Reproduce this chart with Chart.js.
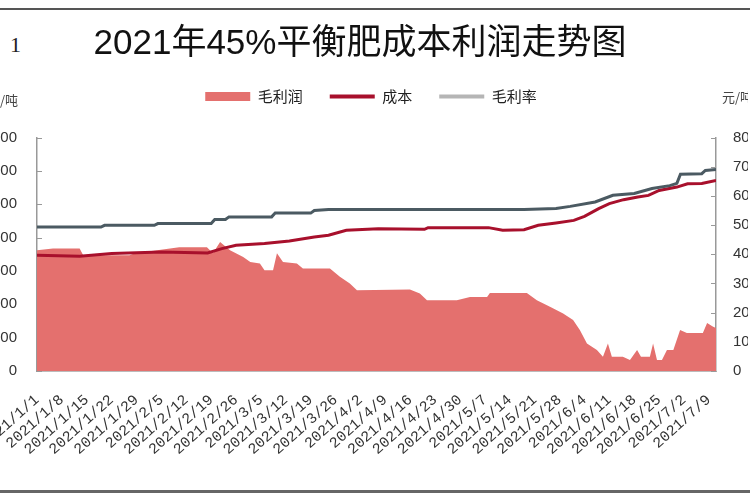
<!DOCTYPE html>
<html>
<head>
<meta charset="utf-8">
<script src="https://cdn.jsdelivr.net/npm/chart.js@4"></script>
<style>
  html, body { margin: 0; padding: 0; background: #fff; overflow: hidden; width: 750px; height: 500px; }
  #frameTop { position: absolute; left: 0; top: 8px; width: 750px; height: 2px; background: #555; }
  #frameBottom { position: absolute; left: 0; top: 490px; width: 750px; height: 3px; background: #666; }
  #caption { position: absolute; left: -36px; top: 26px; font: 22px 'Liberation Serif', 'Noto Sans CJK SC', serif; color: #222; white-space: pre; }
  #wrap { position: absolute; left: -28px; top: 10px; width: 776px; height: 480px; }
</style>
</head>
<body>
<div id="frameTop"></div>
<div id="caption"><span>图</span><span style="margin-left:24px">1</span></div>
<div id="wrap"><canvas id="c"></canvas></div>
<div id="frameBottom"></div>
<script>
// ---- data ----
const title = '2021年45%平衡肥成本利润走势图';
const seriesNames = ['毛利润', '成本', '毛利率'];
const unitLabel = '元/吨';

// weekly tick labels (day index 0 = 2021/1/1, one tick every 7 days)
const tickLabels = ['2021/1/1','2021/1/8','2021/1/15','2021/1/22','2021/1/29','2021/2/5','2021/2/12',
  '2021/2/19','2021/2/26','2021/3/5','2021/3/12','2021/3/19','2021/3/26','2021/4/2','2021/4/9',
  '2021/4/16','2021/4/23','2021/4/30','2021/5/7','2021/5/14','2021/5/21','2021/5/28','2021/6/4',
  '2021/6/11','2021/6/18','2021/6/25','2021/7/2','2021/7/9'];

// 毛利润 (area, left axis)
const profitDays = [0,4.5,12,13,26,27.6,40,47.8,49.5,51.5,54.3,58,60,62.7,64,66.4,67.5,69.2,73.1,74.8,
  82.4,85.2,88,90,104.9,107.7,109.7,118.1,121.8,126.6,127.4,137.8,140.6,144.3,148,150.8,152.7,154.7,157.5,159.2,
  160.6,161.7,164.8,166.8,168.8,169.9,172.4,173.3,174.4,175.8,177.2,179,180.9,182.8,187.3,188.5,190.2,191];
const profitVals = [1810,1835,1835,1735,1735,1765,1855,1855,1765,1934,1810,1710,1635,1611,1511,1511,1765,1635,1611,1536,
  1536,1411,1312,1212,1222,1162,1062,1062,1111,1111,1171,1171,1062,962,863,763,613,414,314,214,
  414,214,214,165,314,214,214,414,165,165,314,314,613,568,568,718,663,643];

// 成本 (line, left axis)
const costDays = [0,12,21,35,48,52,56,64,71,78,82,87,96,109,110,127,131,137,141,146,151,154,158,161,165,169,172,175,180,183,187,191];
const costVals = [1735,1720,1760,1784,1770,1835,1885,1910,1949,2009,2034,2109,2134,2124,2149,2149,2109,2119,2184,2218,
  2258,2318,2434,2508,2568,2607,2632,2707,2757,2807,2812,2857];

// 毛利率 (line, right axis)
const rateDays = [0,18,19,33,34,49,50,53,54,66,67,77,78,82,137,146,150,157,162,168,173,178,180,181,187,188,191];
const rateVals = [49.3,49.3,49.9,49.9,50.5,50.5,51.9,51.9,52.8,52.8,54.1,54.1,55.0,55.3,55.3,55.7,56.4,57.9,60.2,60.8,
  62.5,63.5,64.3,67.4,67.6,68.7,69.0];

const leftTicks = [0,500,1000,1500,2000,2500,3000,3500];
const rightTicks = [0,10,20,30,40,50,60,70,80];

const toPts = (xs, ys) => xs.map((x, i) => ({x: x, y: ys[i]}));

const latin = "'Liberation Sans', 'Noto Sans CJK SC', sans-serif";
const cjk = "'Noto Sans CJK SC', sans-serif";

const innerTicks = {
  id: 'innerTicks',
  beforeDatasetsDraw(chart) {
    const {ctx, chartArea} = chart;
    ctx.save();
    ctx.strokeStyle = '#999';
    ctx.lineWidth = 1;
    chart.scales.y.ticks.forEach(t => {
      const p = Math.round(chart.scales.y.getPixelForValue(t.value)) + 0.5;
      ctx.beginPath(); ctx.moveTo(chartArea.left, p); ctx.lineTo(chartArea.left + 5, p); ctx.stroke();
    });
    chart.scales.y1.ticks.forEach(t => {
      const p = Math.round(chart.scales.y1.getPixelForValue(t.value)) + 0.5;
      ctx.beginPath(); ctx.moveTo(chartArea.right - 5, p); ctx.lineTo(chartArea.right, p); ctx.stroke();
    });
    ctx.restore();
  }
};

const units = {
  id: 'units',
  afterDraw(chart) {
    const {ctx} = chart;
    ctx.save();
    ctx.font = '13px ' + cjk;
    ctx.fillStyle = '#444';
    ctx.textBaseline = 'middle';
    ctx.textAlign = 'right';
    ctx.fillText(unitLabel, 46, 90);
    ctx.textAlign = 'left';
    ctx.fillText(unitLabel, 750, 87);
    ctx.restore();
  }
};

const legendShift = {
  id: 'legendShift',
  afterLayout(chart) {
    if (chart.legend) { chart.legend.left += 11; chart.legend.right += 11; }
  }
};

const legendColors = ['#e4706e', '#a8102c', '#b5b5b5'];

new Chart(document.getElementById('c'), {
  data: {
    datasets: [
      {
        type: 'line', label: seriesNames[0], data: toPts(profitDays, profitVals), yAxisID: 'y',
        fill: 'origin', backgroundColor: '#e4706e', borderColor: '#e4706e', borderWidth: 0,
        pointRadius: 0, pointStyle: 'rect', tension: 0, order: 3
      },
      {
        type: 'line', label: seriesNames[1], data: toPts(costDays, costVals), yAxisID: 'y',
        fill: false, borderColor: '#a8102c', backgroundColor: '#a8102c', borderWidth: 3,
        pointRadius: 0, pointStyle: 'line', tension: 0, order: 2
      },
      {
        type: 'line', label: seriesNames[2], data: toPts(rateDays, rateVals), yAxisID: 'y1',
        fill: false, borderColor: '#4b5a62', backgroundColor: '#4b5a62', borderWidth: 3,
        pointRadius: 0, pointStyle: 'line', tension: 0, order: 1
      }
    ]
  },
  options: {
    responsive: true,
    maintainAspectRatio: false,
    animation: false,
    layout: { padding: 0 },
    plugins: {
      title: {
        display: true, text: title, color: '#111',
        font: { family: latin, size: 35, weight: 'normal' },
        padding: { top: 13, bottom: -3 }
      },
      legend: {
        display: true, position: 'top',
        labels: {
          usePointStyle: true, pointStyleWidth: 45, boxHeight: 9, padding: 27,
          color: '#222', font: { family: cjk, size: 15 },
          sort: (a, b) => a.datasetIndex - b.datasetIndex,
          generateLabels(chart) {
            const items = Chart.defaults.plugins.legend.labels.generateLabels(chart);
            items.forEach(it => {
              const c = legendColors[it.datasetIndex];
              it.strokeStyle = c;
              it.fillStyle = c;
              if (it.datasetIndex > 0) it.lineWidth = 4;
            });
            return items;
          }
        }
      },
      tooltip: { enabled: false }
    },
    scales: {
      x: {
        type: 'linear', position: 'bottom', min: 0, max: 191,
        grid: { display: false, drawTicks: false },
        border: { display: true, color: '#bbb', width: 1 },
        ticks: {
          stepSize: 7, includeBounds: false, autoSkip: false,
          maxRotation: 42, minRotation: 42, padding: 20,
          color: '#333', font: { family: "'Liberation Mono', monospace", size: 15 },
          callback: (v) => tickLabels[Math.round(v / 7)] ?? ''
        },
        afterFit(s) { s.height = 119; s.paddingLeft = 0; s.paddingRight = 0; }
      },
      gap: {
        type: 'linear', axis: 'x', position: 'top', display: true,
        ticks: { display: false }, grid: { display: false, drawTicks: false }, border: { display: false },
        afterFit(s) { s.height = 23.5; s.paddingLeft = 0; s.paddingRight = 0; }
      },
      y: {
        type: 'linear', position: 'left', min: 0, max: 3500,
        afterBuildTicks(s) { s.ticks = leftTicks.map(v => ({value: v})); },
        grid: { display: false, drawTicks: false },
        border: { display: true, color: '#999', width: 1.5 },
        ticks: { padding: 20, color: '#333', font: { family: latin, size: 15 } },
        afterFit(s) { s.width = 65; s.paddingTop = 0; s.paddingBottom = 0; }
      },
      y1: {
        type: 'linear', position: 'right', min: 0, max: 80,
        afterBuildTicks(s) { s.ticks = rightTicks.map(v => ({value: v})); },
        grid: { display: false, drawTicks: false },
        border: { display: true, color: '#999', width: 1.5 },
        ticks: { padding: 17, color: '#333', font: { family: latin, size: 15 } },
        afterFit(s) { s.width = 32; s.paddingTop = 0; s.paddingBottom = 0; }
      }
    }
  },
  plugins: [innerTicks, units, legendShift]
});
</script>
</body>
</html>
